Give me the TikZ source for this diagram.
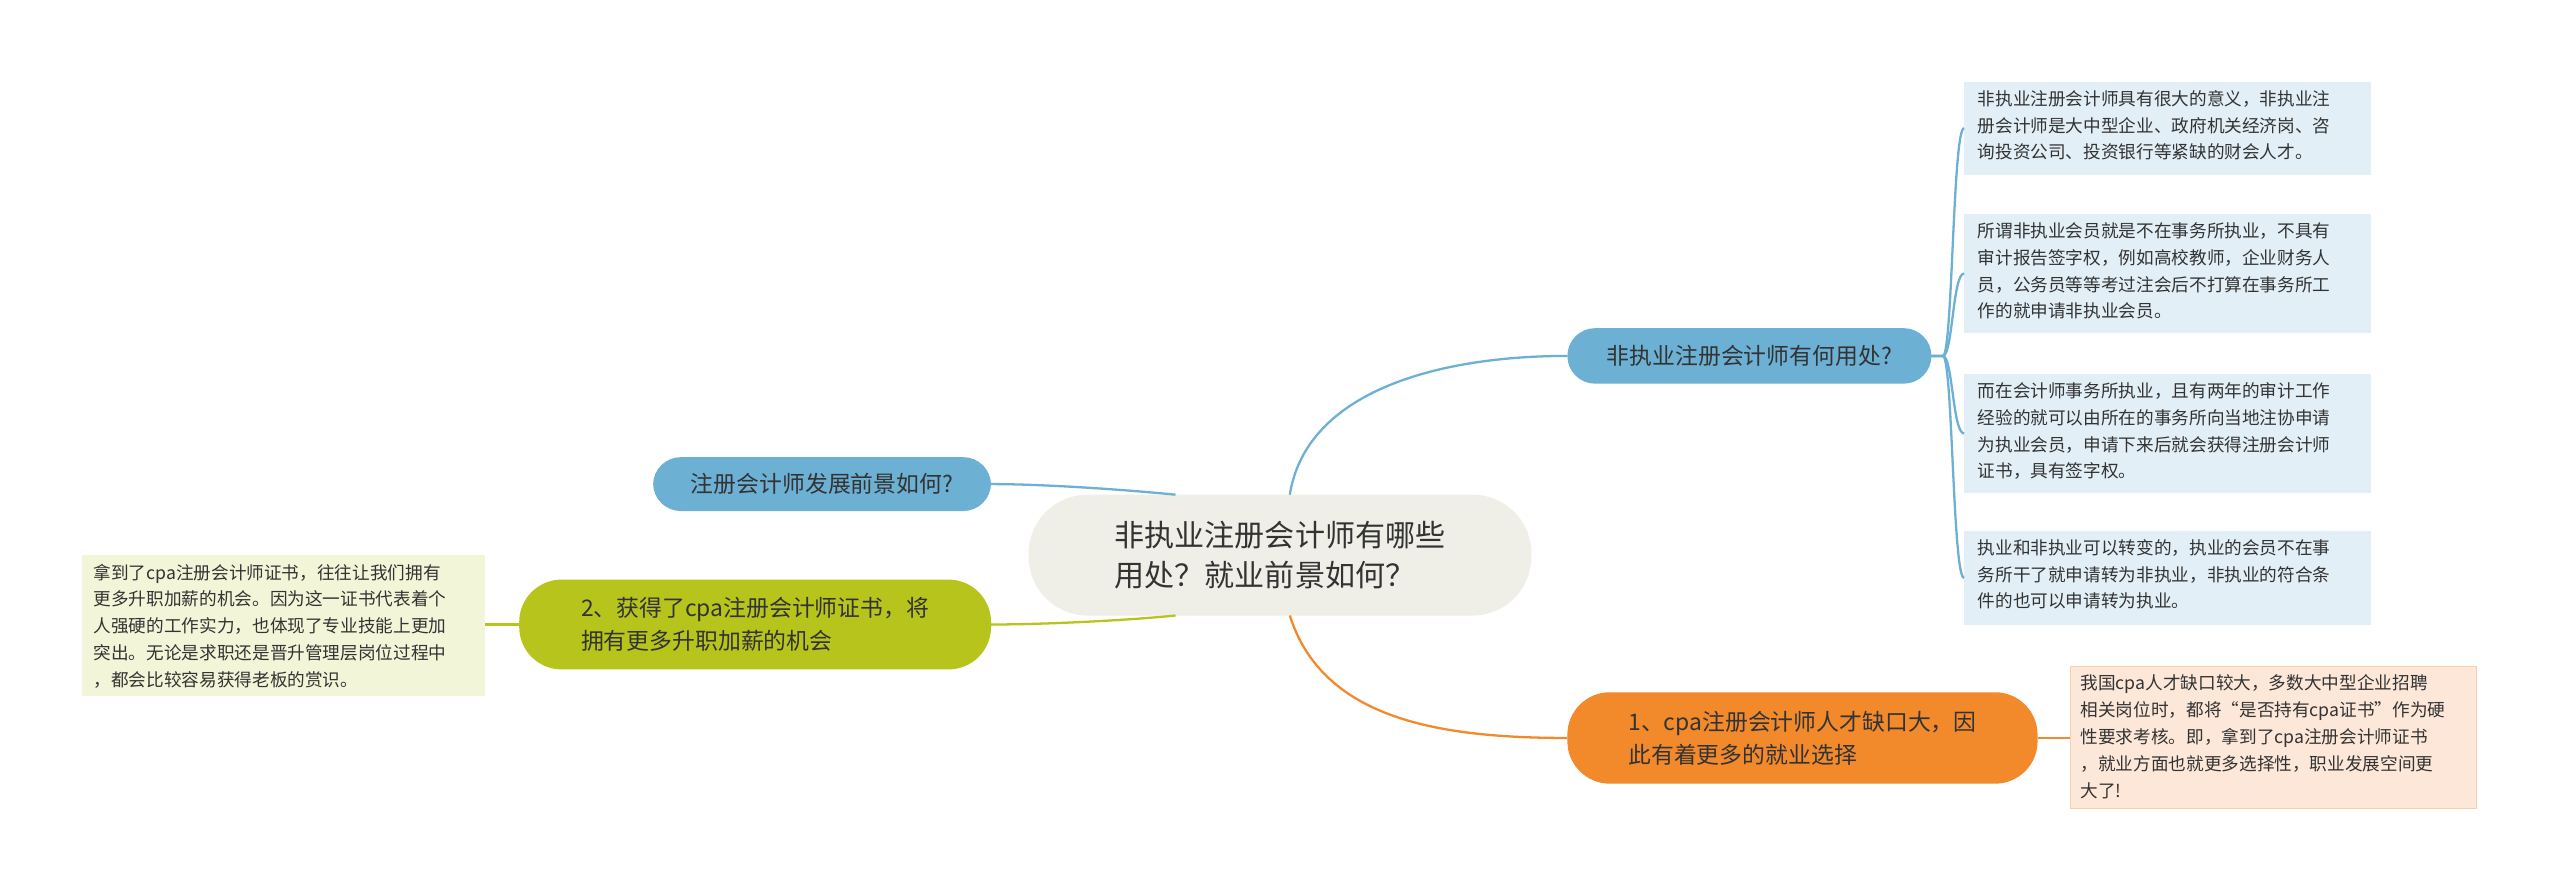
\documentclass[tikz,border=0pt]{standalone}
\usepackage{fontspec}
\setmainfont{Noto Sans CJK SC}
\definecolor{bluebr}{HTML}{6CB0D4}
\definecolor{blueleaf}{HTML}{E2EFF7}
\definecolor{orangebr}{HTML}{F28A2C}
\definecolor{orangeleaf}{HTML}{FCE7D8}
\definecolor{greenbr}{HTML}{B6C41C}
\definecolor{greenleaf}{HTML}{F3F5D8}
\definecolor{centerc}{HTML}{EFEFE7}
\definecolor{txt}{HTML}{333333}
\begin{document}
\begin{tikzpicture}[x=0.5pt,y=-0.5pt,
  leaf/.style={anchor=north west,inner sep=0pt,align=left,font=\fontsize{5.4pt}{8.2pt}\selectfont,text=txt},
  br/.style={rounded corners=8.5pt,font=\fontsize{7pt}{10pt}\selectfont,text=txt,align=left},
  con/.style={line width=0.7pt}]
\fill[white] (0,0) rectangle (1568,546);
% center
\fill[centerc,rounded corners=18pt] (630,303) rectangle (938,377);
\node[font=\fontsize{9.2pt}{12.5pt}\selectfont,text=txt,align=left] (c) at (784,340) {非执业注册会计师有哪些\\用处？就业前景如何？};
\coordinate (ct) at (790,303);
\coordinate (cb) at (790,377);
\coordinate (cl1) at (720,303);
\coordinate (cl2) at (720,377);
% right top branch
\fill[bluebr,rounded corners=8.5pt] (960,201) rectangle (1183,235);
\node[br] (b1) at (1071.5,218) {非执业注册会计师有何用处?};
\coordinate (b1r) at (1183,218);
\coordinate (b1l) at (960,218);
\draw[bluebr,con] (ct) .. controls (800,240) and (880,218) .. (b1l);
% leaves
\foreach \y/\h/\n in {50/57/l1,131/73/l2,229/73/l3,325/58/l4}{
  \fill[blueleaf] (1203,\y) rectangle (1452,\y+\h);
  \coordinate (\n) at (1203,\y+\h/2);
  \draw[bluebr,con] (b1r) -- (1190,218) .. controls (1196,218) and (1196,\y+\h/2) .. (\n);
}
\node[leaf] at (1211,55) {非执业注册会计师具有很大的意义，非执业注\\册会计师是大中型企业、政府机关经济岗、咨\\询投资公司、投资银行等紧缺的财会人才。};
\node[leaf] at (1211,136) {所谓非执业会员就是不在事务所执业，不具有\\审计报告签字权，例如高校教师，企业财务人\\员，公务员等等考过注会后不打算在事务所工\\作的就申请非执业会员。};
\node[leaf] at (1211,234) {而在会计师事务所执业，且有两年的审计工作\\经验的就可以由所在的事务所向当地注协申请\\为执业会员，申请下来后就会获得注册会计师\\证书，具有签字权。};
\node[leaf] at (1211,330) {执业和非执业可以转变的，执业的会员不在事\\务所干了就申请转为非执业，非执业的符合条\\件的也可以申请转为执业。};
% right bottom branch
\fill[orangebr,rounded corners=13pt] (960,424) rectangle (1248,480);
\node[br] (b2) at (1104,452) {1、cpa注册会计师人才缺口大，因\\此有着更多的就业选择};
\coordinate (b2l) at (960,452);
\coordinate (b2r) at (1248,452);
\draw[orangebr,con] (cb) .. controls (810,440) and (880,452) .. (b2l);
\fill[orangeleaf,draw=orangebr!40,line width=0.3pt] (1268,408) rectangle (1517,495);
\coordinate (l5) at (1268,452);
\draw[orangebr,con] (b2r) -- (l5);
\node[leaf] at (1274,413) {我国cpa人才缺口较大，多数大中型企业招聘\\相关岗位时，都将“是否持有cpa证书”作为硬\\性要求考核。即，拿到了cpa注册会计师证书\\，就业方面也就更多选择性，职业发展空间更\\大了!};
% left blue
\fill[bluebr,rounded corners=8.5pt] (400,280) rectangle (607,313);
\node[br] (b3) at (503.5,296.5) {注册会计师发展前景如何?};
\coordinate (b3r) at (607,296.5);
\draw[bluebr,con] (cl1) .. controls (690,300) and (640,296.5) .. (b3r);
% left green
\fill[greenbr,rounded corners=13pt] (318,355) rectangle (607,410);
\node[br] (b4) at (462.5,382.5) {2、获得了cpa注册会计师证书，将\\拥有更多升职加薪的机会};
\coordinate (b4r) at (607,382.5);
\coordinate (b4l) at (318,382.5);
\draw[greenbr,con] (cl2) .. controls (690,380) and (640,382.5) .. (b4r);
\fill[greenleaf] (50,340) rectangle (297,426);
\coordinate (l6) at (297,382.5);
\draw[greenbr,con] (b4l) -- (l6);
\node[leaf] at (57,345) {拿到了cpa注册会计师证书，往往让我们拥有\\更多升职加薪的机会。因为这一证书代表着个\\人强硬的工作实力，也体现了专业技能上更加\\突出。无论是求职还是晋升管理层岗位过程中\\，都会比较容易获得老板的赏识。};
\end{tikzpicture}
\end{document}
